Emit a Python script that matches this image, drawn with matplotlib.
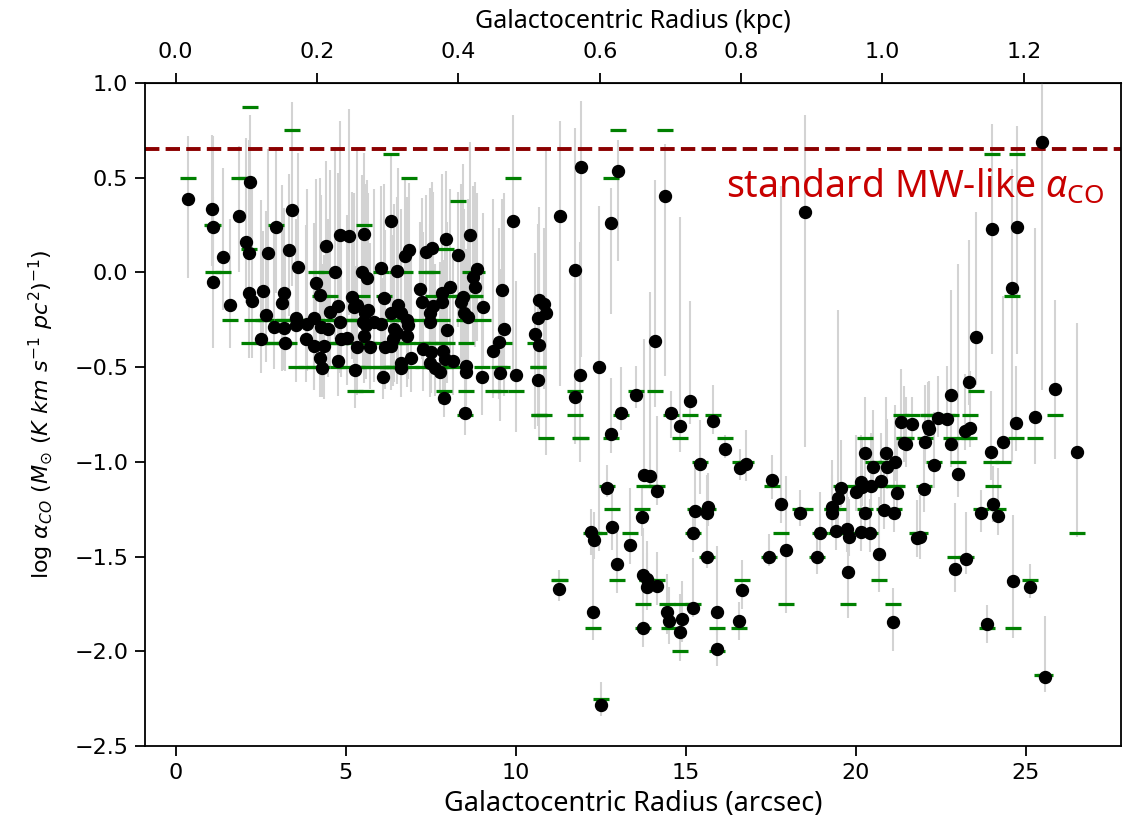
import matplotlib
matplotlib.use("Agg")
import matplotlib.pyplot as plt

# Galactocentric radius (arcsec) of each aperture
radius_arcsec = [
    0.36, 1.07, 1.11, 1.10, 1.40, 1.61, 1.85, 2.06, 2.15, 2.15,
    2.20, 2.24, 2.50, 2.56, 2.65, 2.71, 2.88, 2.94, 3.12, 3.20,
    3.20, 3.21, 3.34, 3.41, 3.53, 3.53, 3.59, 3.83, 3.86, 4.06,
    4.06, 4.12, 4.24, 4.25, 4.28, 4.31, 4.36, 4.41, 4.47, 4.53,
    4.70, 4.78, 4.78, 4.83, 4.84, 4.87, 5.04, 5.09, 5.18, 5.25,
    5.27, 5.32, 5.33, 5.47, 5.50, 5.53, 5.53, 5.56, 5.60, 5.63,
    5.65, 5.73, 5.83, 6.03, 6.05, 6.09, 6.14, 6.17, 6.32, 6.32,
    6.34, 6.38, 6.42, 6.50, 6.50, 6.53, 6.62, 6.62, 6.64, 6.76,
    6.80, 6.83, 6.80, 6.87, 6.93,
    7.18, 7.26, 7.27, 7.35, 7.47, 7.47, 7.47, 7.52, 7.53, 7.57,
    7.64, 7.78, 7.83, 7.83, 7.86, 7.88, 7.91, 7.96, 7.99, 8.06,
    8.16, 8.30, 8.40, 8.45, 8.47, 8.50, 8.55, 8.55, 8.60, 8.65,
    8.74, 8.81, 8.87, 9.02, 9.04, 9.33, 9.51, 9.53, 9.60, 9.65,
    9.93, 10.00, 10.57, 10.67, 10.67, 10.68, 10.69, 10.83, 10.88,
    11.26, 11.29, 11.74, 11.74, 11.90, 11.93, 12.22, 12.26, 12.29, 12.44,
    12.50, 12.70, 12.79, 12.81, 12.84, 12.99, 13.00, 13.09, 13.35, 13.53,
    13.71, 13.74, 13.75, 13.77, 13.86, 13.87, 13.94, 14.10, 14.15, 14.15,
    14.40, 14.46, 14.50, 14.57, 14.82, 14.82, 14.88, 15.13, 15.20, 15.21,
    15.26, 15.41, 15.63, 15.63, 15.66, 15.80, 15.92, 15.92, 16.15, 16.56,
    16.59, 16.66, 16.78, 17.46, 17.54, 17.79, 17.96, 18.35, 18.50, 18.86,
    18.94, 19.30, 19.30, 19.43, 19.48, 19.56, 19.74, 19.77, 19.80, 20.00,
    20.15, 20.16, 20.17, 20.26, 20.28, 20.41, 20.46, 20.52, 20.69, 20.75,
    20.82, 20.90, 20.92, 21.10, 21.12, 21.15, 21.20, 21.32, 21.42, 21.47,
    21.65, 21.80, 21.88, 22.00, 22.05, 22.11, 22.16, 22.29, 22.42, 22.69,
    22.80, 22.81, 22.91, 23.00, 23.22, 23.23, 23.33, 23.37, 23.55, 23.67,
    23.86, 23.97, 24.02, 24.04, 24.17, 24.32, 24.60, 24.63, 24.70, 24.73,
    25.12, 25.27, 25.48, 25.56, 25.87, 26.52,
]

# Measured log alpha_CO
log_alpha_co = [
    0.39, 0.335, 0.24, -0.05, 0.08, -0.17, 0.30, 0.16, 0.10, -0.11,
    0.48, -0.15, -0.35, -0.10, -0.225, 0.10, -0.29, 0.24, -0.16, -0.11,
    -0.295, -0.37, 0.12, 0.33, -0.24, -0.28, 0.03, -0.35, -0.27, -0.24,
    -0.39, -0.055, -0.45, -0.12, -0.29, -0.505, -0.39, 0.14, -0.30, -0.21,
    0.0, -0.176, -0.47, 0.197, -0.26, -0.35, -0.345, 0.194, -0.128, -0.18,
    -0.515, -0.17, -0.395, 0.004, -0.26, 0.203, -0.334, -0.215, -0.28, -0.03,
    -0.20, -0.395, -0.26, 0.025, -0.27, -0.55, -0.133, -0.395, 0.27, -0.215,
    -0.39, -0.35, -0.30, 0.009, -0.32, -0.17, -0.215, -0.48, -0.505, 0.087,
    -0.25, -0.28, -0.335, 0.12, -0.45,
    -0.085, -0.155, -0.406, 0.108, -0.216, -0.264, -0.48, -0.418, 0.13, -0.178,
    -0.503, -0.524, -0.11, -0.158, -0.415, -0.665, -0.459, 0.178, -0.304, -0.079,
    -0.468, 0.094, -0.155, -0.128, -0.216, -0.74, -0.494, -0.524, -0.234, 0.20,
    -0.025, -0.075, 0.02, -0.554, -0.185, -0.413, -0.366, -0.533, -0.093, -0.30,
    0.273, -0.543, -0.325, -0.242, -0.57, -0.383, -0.146, -0.168, -0.213,
    -1.672, 0.30, 0.014, -0.656, -0.542, 0.556, -1.37, -1.79, -1.413, -0.50,
    -2.284, -1.137, 0.26, -0.855, -1.346, -1.54, 0.535, -0.741, -1.44, -0.645,
    -1.29, -1.875, -1.598, -1.07, -1.616, -1.663, -1.075, -0.36, -1.156, -1.656,
    0.405, -1.79, -1.84, -0.744, -0.81, -1.90, -1.83, -0.68, -1.378, -1.77,
    -1.26, -1.01, -1.27, -1.50, -1.24, -0.785, -1.795, -1.99, -0.93, -1.84,
    -1.034, -1.677, -1.01, -1.50, -1.096, -1.225, -1.466, -1.27, 0.32, -1.50,
    -1.378, -1.24, -1.27, -1.365, -1.19, -1.137, -1.355, -1.583, -1.395, -1.157,
    -1.108, -1.37, -1.131, -1.272, -0.955, -1.378, -1.128, -1.025, -1.487, -1.10,
    -1.254, -0.955, -1.025, -1.847, -1.27, -1.0, -1.167, -0.788, -0.902, -0.906,
    -0.80, -1.40, -1.395, -1.145, -0.893, -0.811, -0.825, -1.017, -0.767, -0.774,
    -0.906, -0.645, -1.568, -1.064, -0.837, -1.513, -0.58, -0.823, -0.343, -1.27,
    -1.858, -0.946, 0.229, -1.22, -1.284, -0.893, -0.082, -1.631, -0.795, 0.241,
    -1.659, -0.763, 0.69, -2.134, -0.614, -0.946,
]

# Lower / upper uncertainties on log alpha_CO
err_low = [
    0.42, 0.30, 0.30, 0.35, 0.28, 0.23, 0.30, 0.32, 0.30, 0.34,
    0.30, 0.30, 0.18, 0.28, 0.25, 0.30, 0.22, 0.35, 0.36, 0.40,
    0.22, 0.15, 0.35, 0.40, 0.28, 0.30, 0.30, 0.23, 0.25, 0.38,
    0.23, 0.30, 0.21, 0.35, 0.30, 0.15, 0.28, 0.35, 0.25, 0.30,
    0.35, 0.33, 0.18, 0.40, 0.27, 0.20, 0.25, 0.42, 0.33, 0.30,
    0.20, 0.30, 0.25, 0.32, 0.25, 0.38, 0.25, 0.32, 0.28, 0.30,
    0.30, 0.22, 0.32, 0.35, 0.30, 0.12, 0.32, 0.22, 0.40, 0.33,
    0.23, 0.25, 0.28, 0.33, 0.27, 0.30, 0.32, 0.13, 0.15, 0.40,
    0.30, 0.28, 0.27, 0.35, 0.18,
    0.35, 0.30, 0.22, 0.40, 0.30, 0.30, 0.18, 0.22, 0.38, 0.33,
    0.15, 0.17, 0.35, 0.30, 0.22, 0.10, 0.20, 0.40, 0.28, 0.38,
    0.18, 0.38, 0.32, 0.35, 0.30, 0.12, 0.20, 0.18, 0.30, 0.42,
    0.35, 0.32, 0.38, 0.20, 0.32, 0.25, 0.30, 0.25, 0.40, 0.35,
    0.80, 0.30, 0.50, 0.35, 0.24, 0.50, 0.50, 0.45, 0.75,
    0.06, 0.90, 0.50, 0.25, 0.46, 1.00, 0.12, 0.15, 0.10, 0.97,
    0.06, 0.05, 0.48, 0.10, 0.12, 0.15, 0.475, 0.09, 0.10, 0.07,
    0.10, 0.10, 0.20, 0.03, 0.15, 0.12, 0.05, 0.35, 0.07, 0.10,
    0.95, 0.12, 0.12, 0.13, 0.14, 0.15, 0.12, 0.12, 0.10, 0.05,
    0.15, 0.16, 0.12, 0.06, 0.10, 0.07, 0.12, 0.09, 0.05, 0.10,
    0.06, 0.10, 0.09, 0.05, 0.10, 0.10, 0.33, 0.07, 1.24, 0.09,
    0.12, 0.10, 0.12, 0.10, 0.15, 0.10, 0.12, 0.24, 0.10, 0.10,
    0.12, 0.10, 0.10, 0.12, 0.10, 0.10, 0.12, 0.10, 0.20, 0.12,
    0.10, 0.10, 0.12, 0.15, 0.10, 0.10, 0.12, 0.10, 0.10, 0.12,
    0.10, 0.10, 0.12, 0.12, 0.12, 0.10, 0.10, 0.12, 0.10, 0.10,
    0.12, 0.10, 0.12, 0.12, 0.10, 0.08, 0.12, 0.10, 0.25, 0.10,
    0.10, 0.15, 0.66, 0.10, 0.10, 0.12, 0.92, 0.30, 0.15, 0.67,
    0.06, 0.25, 1.31, 0.08, 0.37, 0.45,
]

err_high = [
    0.33, 0.39, 0.48, 0.45, 0.47, 0.45, 0.37, 0.55, 0.60, 0.50,
    0.35, 0.62, 0.73, 0.32, 0.55, 0.55, 0.50, 0.42, 0.62, 0.45,
    0.55, 0.48, 0.40, 0.57, 0.52, 0.45, 0.60, 0.60, 0.71, 0.50,
    0.45, 0.55, 0.50, 0.62, 0.70, 0.55, 0.48, 0.45, 0.58, 0.75,
    0.66, 0.70, 0.55, 0.60, 0.62, 0.58, 0.65, 0.67, 0.55, 0.60,
    0.55, 0.83, 0.65, 0.51, 0.72, 0.43, 0.60, 0.68, 0.50, 0.52,
    0.62, 0.55, 0.70, 0.43, 0.55, 0.52, 0.60, 0.62, 0.36, 0.65,
    0.58, 0.55, 0.66, 0.39, 0.60, 0.72, 0.55, 0.45, 0.60, 0.40,
    0.65, 0.55, 0.58, 0.35, 0.52,
    0.35, 0.55, 0.62, 0.30, 0.66, 0.52, 0.48, 0.55, 0.35, 0.60,
    0.55, 0.58, 0.55, 0.68, 0.48, 0.50, 0.62, 0.36, 0.57, 0.52,
    0.55, 0.33, 0.62, 0.70, 0.55, 0.45, 0.62, 0.55, 0.62, 0.49,
    0.48, 0.55, 0.40, 0.58, 0.50, 0.80, 0.60, 0.55, 0.48, 0.72,
    0.56, 0.50, 0.43, 0.50, 0.45, 0.55, 0.49, 0.40, 0.86,
    0.10, 0.50, 0.75, 0.60, 0.70, 0.35, 0.12, 0.40, 0.15, 0.85,
    0.12, 0.12, 0.185, 0.30, 0.20, 0.18, 0.165, 0.24, 0.30, 0.15,
    0.15, 0.12, 0.25, 0.72, 0.20, 0.18, 0.97, 0.85, 0.40, 0.18,
    0.275, 0.20, 0.18, 0.12, 1.10, 0.20, 0.20, 0.53, 0.15, 0.26,
    0.23, 0.23, 0.20, 0.15, 0.18, 0.19, 0.35, 0.10, 0.07, 0.10,
    0.10, 0.16, 0.18, 0.12, 0.13, 1.68, 0.39, 0.12, 0.51, 0.15,
    0.22, 0.25, 0.20, 0.20, 0.99, 0.25, 0.22, 0.40, 0.20, 0.30,
    0.25, 0.20, 0.25, 0.22, 0.30, 0.18, 0.28, 0.30, 0.30, 0.25,
    0.25, 0.30, 0.25, 0.18, 0.25, 0.30, 0.30, 0.28, 0.30, 0.25,
    0.14, 0.20, 0.22, 0.28, 0.30, 0.23, 0.25, 0.28, 0.22, 0.28,
    0.30, 0.55, 0.35, 1.11, 0.30, 0.25, 0.75, 0.30, 0.66, 0.12,
    0.10, 0.32, 0.555, 0.20, 0.25, 0.77, 0.63, 0.35, 0.30, 0.53,
    0.12, 1.00, 0.60, 0.32, 0.47, 0.68,
]

# Model prediction for log alpha_CO at each aperture
log_alpha_co_model = [
    0.5, 0.25, 0.25, 0.0, 0.0, -0.25, 0.5, 0.5, 0.125, -0.375,
    0.875, -0.25, -0.375, -0.25, -0.25, -0.375, -0.375, 0.25, -0.25, -0.25,
    -0.375, -0.375, -0.375, 0.75, -0.25, -0.5, -0.25, -0.5, -0.25, -0.375,
    -0.5, 0.0, -0.375, -0.125, -0.25, -0.5, -0.375, 0.0, -0.25, -0.125,
    -0.375, -0.25, -0.5, -0.25, -0.375, -0.375, -0.5, -0.25, -0.25, -0.375,
    -0.625, -0.25, -0.5, -0.125, -0.5, 0.25, -0.375, -0.375, -0.625, -0.5,
    -0.375, -0.375, -0.375, 0.0, -0.5, -0.5, -0.125, -0.25, 0.625, -0.25,
    -0.5, -0.5, -0.5, 0.0, -0.375, -0.25, -0.375, -0.5, -0.5, 0.0,
    -0.25, -0.25, -0.375, 0.5, -0.5,
    -0.25, -0.375, -0.5, 0.0, -0.25, -0.375, -0.5, -0.375, 0.0, -0.125,
    -0.5, -0.5, -0.125, -0.25, -0.375, -0.625, -0.5, 0.125, -0.375, -0.125,
    -0.5, 0.375, -0.125, -0.125, -0.25, -0.75, -0.625, -0.375, -0.25, 0.0,
    -0.125, -0.125, 0.0, -0.5, -0.25, -0.625, -0.5, -0.625, -0.5, -0.375,
    0.5, -0.625, -0.375, -0.5, -0.5, -0.75, -0.75, -0.75, -0.875,
    -1.625, -1.625, -0.75, -0.625, -0.875, -0.875, -1.375, -1.875, -1.375, -1.375,
    -2.25, -1.125, 0.5, -0.875, -1.25, -1.625, 0.75, -0.75, -1.375, -0.625,
    -1.25, -1.875, -1.75, -1.125, -1.625, -1.625, -1.125, -0.625, -1.125, -1.625,
    0.75, -1.75, -1.875, -0.75, -0.875, -2.0, -1.75, -0.75, -1.375, -1.75,
    -1.25, -1.0, -1.25, -1.5, -1.25, -0.75, -1.875, -2.0, -0.875, -1.875,
    -1.0, -1.625, -1.0, -1.5, -1.125, -1.375, -1.75, -1.25, -1.25, -1.5,
    -1.375, -1.25, -1.25, -1.375, -1.25, -1.125, -1.375, -1.75, -1.375, -1.125,
    -1.125, -1.375, -1.125, -1.25, -0.875, -1.375, -1.125, -1.0, -1.625, -1.125,
    -1.25, -1.0, -1.0, -1.75, -1.25, -1.125, -1.125, -0.75, -0.875, -0.875,
    -0.75, -1.375, -1.375, -1.125, -0.875, -0.75, -0.75, -1.0, -0.75, -0.75,
    -0.875, -0.75, -1.5, -1.0, -0.875, -1.5, -0.875, -0.75, -0.625, -1.25,
    -1.875, -1.0, 0.625, -1.125, -1.25, -1.0, -0.125, -1.875, -0.875, 0.625,
    -1.625, -0.875, -2.125, -2.125, -0.75, -1.375,
]

# Milky Way reference value
log_alpha_mw = 0.65
KPC_PER_ARCSEC = 0.04811

plt.rcParams['mathtext.fontset'] = 'dejavusans'
plt.rcParams['mathtext.rm'] = 'Noto Sans'
plt.rcParams['mathtext.it'] = 'Noto Sans:italic'
plt.rcParams['mathtext.bf'] = 'Noto Sans:bold'

W, H = 1131, 824
fig = plt.figure(figsize=(W / 100, H / 100), dpi=100)
ax = fig.add_axes([145 / W, 1 - 746 / H, (1121 - 145) / W, (746 - 83) / H])

ax.errorbar(radius_arcsec, log_alpha_co, yerr=[err_low, err_high], fmt='none',
            ecolor='lightgray', elinewidth=1.5, capsize=0, zorder=1)
ax.axhline(log_alpha_mw, color='darkred', ls='--', lw=2.8, zorder=2)
ax.plot(radius_arcsec, log_alpha_co_model, ls='none', marker='_', ms=11,
        mew=2.3, color='green', zorder=3)
ax.plot(radius_arcsec, log_alpha_co, ls='none', marker='o', ms=8.6,
        color='black', zorder=4)

ax.text(27.3, 0.45, r'standard MW-like $\alpha_{\rm CO}$', color='#c80000',
        fontsize=27, family='Noto Sans', math_fontfamily='custom',
        ha='right', va='center')

ax.set_xlim(-0.9, 27.8)
ax.set_ylim(-2.5, 1.0)
ax.set_xticks([0, 5, 10, 15, 20, 25])
ax.set_yticks([-2.5, -2.0, -1.5, -1.0, -0.5, 0.0, 0.5, 1.0])
ax.tick_params(labelsize=16, length=7, width=1.3, pad=5)
for s in ax.spines.values():
    s.set_linewidth(1.3)

ax.set_xlabel('Galactocentric Radius (arcsec)', fontsize=19.5, family='Noto Sans',
              labelpad=5)
ax.set_ylabel(r'log $\alpha_{CO}$ ($M_{\odot}$ $(K\ km\ s^{-1}\ pc^{2})^{-1}$)',
              fontsize=16, labelpad=14)

top = ax.secondary_xaxis('top', functions=(lambda r: r * KPC_PER_ARCSEC,
                                           lambda k: k / KPC_PER_ARCSEC))
top.set_xticks([0.0, 0.2, 0.4, 0.6, 0.8, 1.0, 1.2])
top.tick_params(labelsize=16, length=7, width=1.3, pad=8)
top.set_xlabel('Galactocentric Radius (kpc)', fontsize=18, family='Noto Sans',
               labelpad=10)

fig.savefig('out.png', dpi=100)
